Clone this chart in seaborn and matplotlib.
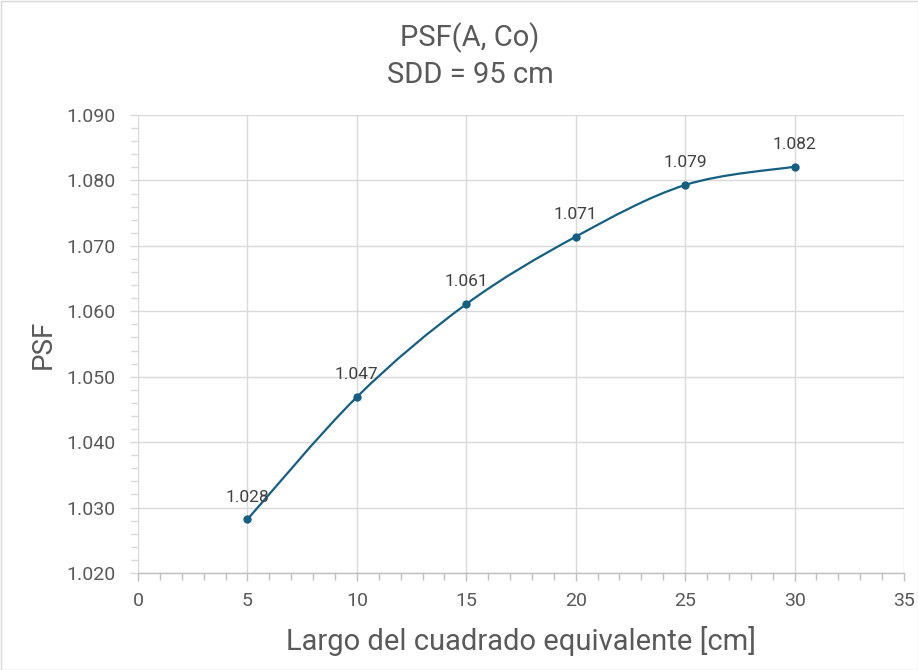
import matplotlib
matplotlib.use("Agg")
import matplotlib.pyplot as plt
import seaborn as sns
import pandas as pd
from matplotlib.path import Path
from matplotlib.patches import PathPatch, Rectangle
from matplotlib.ticker import MultipleLocator, FixedLocator

# Data
side_cm = [5, 10, 15, 20, 25, 30]
psf = [1.0282, 1.0469, 1.0611, 1.0714, 1.0793, 1.0821]

title_lines = ["PSF(A, Co)", "SDD = 95 cm"]
x_label = "Largo del cuadrado equivalente [cm]"
y_label = "PSF"
x_ticks = [0, 5, 10, 15, 20, 25, 30, 35]
y_ticks = [1.020, 1.030, 1.040, 1.050, 1.060, 1.070, 1.080, 1.090]

LINE = "#156082"
GRID = "#d9d9d9"
TXT = "#595959"
LBL = "#404040"

sns.set_theme(style="white")
plt.rcParams["font.family"] = ["Roboto", "DejaVu Sans"]

W, H = 918, 670
fig = plt.figure(figsize=(W / 100, H / 100), dpi=100)
fig.patch.set_facecolor("white")
ax = fig.add_axes([138 / W, 97 / H, 766 / W, 458 / H])

df = pd.DataFrame({"side": side_cm, "psf": psf})

# Smoothed connecting curve (cubic Bezier, Catmull-Rom style tangents)
verts = [(side_cm[0], psf[0])]
codes = [Path.MOVETO]
n = len(side_cm)
for i in range(n - 1):
    p_prev = (side_cm[max(i - 1, 0)], psf[max(i - 1, 0)])
    p0 = (side_cm[i], psf[i])
    p1 = (side_cm[i + 1], psf[i + 1])
    p_next = (side_cm[min(i + 2, n - 1)], psf[min(i + 2, n - 1)])
    c1 = (p0[0] + (p1[0] - p_prev[0]) / 6, p0[1] + (p1[1] - p_prev[1]) / 6)
    c2 = (p1[0] - (p_next[0] - p0[0]) / 6, p1[1] - (p_next[1] - p0[1]) / 6)
    verts += [c1, c2, p1]
    codes += [Path.CURVE4] * 3
ax.add_patch(PathPatch(Path(verts, codes), facecolor="none", edgecolor=LINE,
                       linewidth=1.6, capstyle="round", zorder=3))

sns.scatterplot(data=df, x="side", y="psf", ax=ax, color=LINE, s=36,
                edgecolor=LINE, linewidth=0, zorder=4, legend=False)

for xv, yv in zip(side_cm, psf):
    ax.annotate(f"{yv:.3f}", (xv, yv), xytext=(0, 16), textcoords="offset points",
                ha="center", va="center", fontsize=12.5, color=LBL, zorder=5)

ax.set_xlim(0, 35)
ax.set_ylim(1.020, 1.090)
ax.xaxis.set_major_locator(FixedLocator(x_ticks))
ax.yaxis.set_major_locator(FixedLocator(y_ticks))
ax.xaxis.set_minor_locator(MultipleLocator(1))
ax.yaxis.set_minor_locator(MultipleLocator(0.002))
ax.set_xticklabels([f"{v:d}" for v in x_ticks])
ax.set_yticklabels([f"{v:.3f}" for v in y_ticks])

ax.grid(True, which="major", color=GRID, linewidth=1.0)
ax.set_axisbelow(True)
for side in ["top", "right", "left"]:
    ax.spines[side].set_visible(False)
ax.spines["bottom"].set_color("#bfbfbf")
ax.spines["bottom"].set_linewidth(1.0)

ax.tick_params(axis="both", which="major", labelsize=14, labelcolor=TXT,
               color=GRID, width=1.0, length=6, direction="out")
ax.tick_params(axis="x", which="major", pad=8, bottom=True, color="#bfbfbf")
ax.tick_params(axis="y", which="major", pad=10, left=True)
ax.tick_params(axis="x", which="minor", bottom=True, length=5, width=1.0, color="#bfbfbf")
ax.tick_params(axis="y", which="minor", left=True, length=5, width=1.0, color=GRID)

ax.set_xlabel(x_label, fontsize=21, color=TXT, labelpad=11)
ax.set_ylabel(y_label, fontsize=20, color=TXT, labelpad=7)

fig.text(470 / W, 1 - 38 / H, title_lines[0], ha="center", va="center", fontsize=21, color=TXT)
fig.text(470 / W, 1 - 75 / H, title_lines[1], ha="center", va="center", fontsize=21, color=TXT)

fig.patches.append(Rectangle((0.5 / W, 0.5 / H), 1 - 1 / W, 1 - 1 / H, transform=fig.transFigure,
                             fill=False, edgecolor=GRID, linewidth=1.0))

fig.savefig("out.png", dpi=100)
